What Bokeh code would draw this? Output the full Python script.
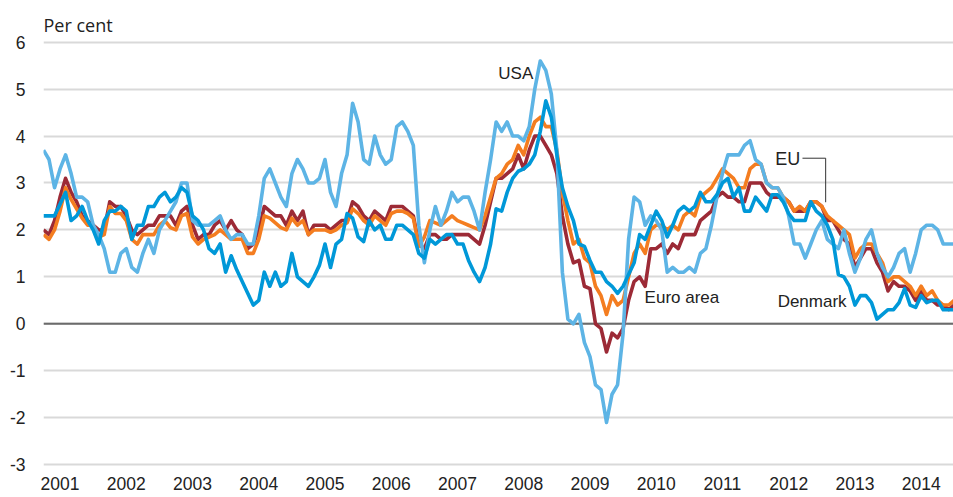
from bokeh.plotting import figure
from bokeh.models import FixedTicker, Span, Label, Range1d
from bokeh.embed import file_html
from bokeh.resources import INLINE

# ---- data: annual rate of consumer price inflation, monthly Jan 2001 - Oct 2014 ----
years = list(range(2001, 2015))
y_ticks = [-3, -2, -1, 0, 1, 2, 3, 4, 5, 6]

usa = [3.7, 3.5, 2.9, 3.3, 3.6, 3.2, 2.7, 2.7, 2.6, 2.1, 1.9, 1.6,
       1.1, 1.1, 1.5, 1.6, 1.2, 1.1, 1.5, 1.8, 1.5, 2.0, 2.2, 2.4,
       2.6, 3.0, 3.0, 2.2, 2.1, 2.1, 2.1, 2.2, 2.3, 2.0, 1.8, 1.9,
       1.9, 1.7, 1.7, 2.3, 3.1, 3.3, 3.0, 2.7, 2.5, 3.2, 3.5, 3.3,
       3.0, 3.0, 3.1, 3.5, 2.8, 2.5, 3.2, 3.6, 4.7, 4.3, 3.5, 3.4,
       4.0, 3.6, 3.4, 3.5, 4.2, 4.3, 4.1, 3.8, 2.1, 1.3, 2.0, 2.5,
       2.1, 2.4, 2.8, 2.6, 2.7, 2.7, 2.4, 2.0, 2.8, 3.5, 4.3, 4.1,
       4.3, 4.0, 4.0, 3.9, 4.2, 5.0, 5.6, 5.4, 4.9, 3.7, 1.1, 0.1,
       0.0, 0.2, -0.4, -0.7, -1.3, -1.4, -2.1, -1.5, -1.3, -0.2, 1.8, 2.7,
       2.6, 2.1, 2.3, 2.2, 2.0, 1.1, 1.2, 1.1, 1.1, 1.2, 1.1, 1.5,
       1.6, 2.1, 2.7, 3.2, 3.6, 3.6, 3.6, 3.8, 3.9, 3.5, 3.4, 3.0,
       2.9, 2.9, 2.7, 2.3, 1.7, 1.7, 1.4, 1.7, 2.0, 2.2, 1.8, 1.7,
       1.6, 2.0, 1.5, 1.1, 1.4, 1.8, 2.0, 1.5, 1.2, 1.0, 1.2, 1.5,
       1.6, 1.1, 1.5, 2.0, 2.1, 2.1, 2.0, 1.7, 1.7, 1.7]

eu = [1.9, 1.8, 2.0, 2.4, 2.9, 2.65, 2.45, 2.25, 2.1, 2.1, 1.85, 1.9,
      2.5, 2.35, 2.35, 2.2, 1.8, 1.7, 1.9, 1.9, 1.9, 2.1, 2.2, 2.05,
      2.0, 2.3, 2.35, 1.85, 1.7, 1.8, 1.85, 1.9, 2.0, 1.9, 1.8, 1.8,
      1.8, 1.5, 1.5, 1.8, 2.3, 2.25, 2.15, 2.05, 2.0, 2.25, 2.1, 2.2,
      1.9, 2.0, 2.0, 2.0, 1.95, 2.0, 2.1, 2.15, 2.45, 2.35, 2.2, 2.1,
      2.3, 2.2, 2.1, 2.35, 2.4, 2.4, 2.35, 2.25, 1.65, 1.85, 2.2, 2.15,
      2.1, 2.2, 2.3, 2.2, 2.15, 2.1, 2.05, 2.0, 2.3, 2.7, 3.1, 3.2,
      3.4, 3.5, 3.8, 3.6, 4.0, 4.3, 4.4, 4.2, 4.2, 3.7, 2.8, 2.2,
      1.7, 1.8, 1.4, 1.3, 0.8, 0.6, 0.2, 0.6, 0.4, 0.5, 1.0, 1.5,
      1.7, 1.5, 2.0, 2.1, 2.1, 2.0, 2.1, 2.0, 2.3, 2.4, 2.3, 2.7,
      2.8, 2.9, 3.1, 3.3, 3.2, 3.1, 2.9, 2.9, 3.3, 3.4, 3.4, 3.0,
      2.9, 2.9, 2.7, 2.6, 2.4, 2.5, 2.4, 2.6, 2.6, 2.5, 2.3, 2.2,
      2.1, 2.0, 1.9, 1.4, 1.6, 1.7, 1.7, 1.5, 1.3, 0.9, 1.0, 1.0,
      0.9, 0.8, 0.6, 0.8, 0.6, 0.7, 0.5, 0.4, 0.4, 0.5]

euro_area = [2.0, 1.9, 2.2, 2.7, 3.1, 2.8, 2.6, 2.3, 2.2, 2.1, 2.0, 2.0,
             2.6, 2.5, 2.5, 2.3, 2.0, 1.9, 2.0, 2.1, 2.1, 2.3, 2.3, 2.3,
             2.1, 2.4, 2.5, 2.1, 1.8, 1.9, 1.9, 2.1, 2.2, 2.0, 2.2, 2.0,
             1.9, 1.6, 1.7, 2.0, 2.5, 2.4, 2.3, 2.3, 2.1, 2.4, 2.2, 2.4,
             1.9, 2.1, 2.1, 2.1, 2.0, 2.1, 2.2, 2.2, 2.6, 2.5, 2.3, 2.2,
             2.4, 2.3, 2.2, 2.5, 2.5, 2.5, 2.4, 2.3, 1.7, 1.6, 1.9, 1.9,
             1.8, 1.8, 1.9, 1.9, 1.9, 1.9, 1.8, 1.7, 2.1, 2.6, 3.1, 3.1,
             3.2, 3.3, 3.6, 3.3, 3.7, 4.0, 4.0, 3.8, 3.6, 3.2, 2.3, 1.7,
             1.3, 1.35, 0.8, 0.75, 0.0, -0.1, -0.6, -0.2, -0.3, -0.1, 0.5, 0.9,
             1.0, 0.8, 1.6, 1.6, 1.7, 1.5, 1.7, 1.6, 1.9, 1.9, 1.9, 2.2,
             2.3, 2.4, 2.7, 2.8, 2.7, 2.7, 2.6, 2.6, 3.0, 3.0, 3.0, 2.8,
             2.7, 2.7, 2.7, 2.6, 2.4, 2.4, 2.4, 2.6, 2.6, 2.5, 2.2, 2.2,
             2.0, 1.8, 1.7, 1.2, 1.4, 1.6, 1.6, 1.3, 1.1, 0.7, 0.9, 0.8,
             0.8, 0.7, 0.5, 0.7, 0.5, 0.5, 0.4, 0.4, 0.3, 0.4]

denmark = [2.3, 2.3, 2.3, 2.55, 2.8, 2.2, 2.3, 2.5, 2.2, 2.0, 1.7, 2.2,
           2.4, 2.4, 2.5, 2.4, 1.8, 2.1, 2.1, 2.5, 2.5, 2.7, 2.8, 2.6,
           2.7, 2.9, 2.8, 2.3, 2.2, 2.0, 1.6, 1.5, 1.7, 1.1, 1.45, 1.15,
           0.9, 0.65, 0.4, 0.5, 1.1, 0.8, 1.1, 0.8, 0.9, 1.5, 1.0, 0.9,
           0.8, 1.0, 1.25, 1.7, 1.2, 1.7, 1.8, 2.35, 2.25, 1.85, 1.75, 2.2,
           2.0, 2.1, 1.8, 1.8, 2.1, 2.1, 2.0, 1.9, 1.5, 1.4, 1.8, 1.7,
           1.8, 1.9, 1.9, 1.7, 1.7, 1.35, 1.1, 0.9, 1.2, 1.7, 2.45, 2.4,
           2.8, 3.1, 3.25, 3.3, 3.4, 3.6, 4.1, 4.75, 4.4, 3.6, 2.9, 2.5,
           2.2, 1.7, 1.65, 1.35, 1.1, 1.1, 0.9, 0.8, 0.65, 0.8, 1.05, 1.3,
           1.9, 1.8, 2.1, 2.4, 2.2, 1.85, 2.1, 2.4, 2.5, 2.4, 2.5, 2.8,
           2.6, 2.6, 2.75, 3.0, 3.1, 2.7, 2.9, 2.4, 2.4, 2.7, 2.55, 2.4,
           2.75, 2.75, 2.6, 2.35, 2.2, 2.2, 2.2, 2.6, 2.4, 2.3, 2.1, 1.8,
           1.05, 1.0, 0.8, 0.4, 0.6, 0.6, 0.45, 0.1, 0.2, 0.3, 0.3, 0.45,
           0.75, 0.4, 0.35, 0.6, 0.45, 0.5, 0.5, 0.3, 0.3, 0.3]

months = list(range(len(usa)))  # month index from January 2001

# ---- styling ----
SANS = "Liberation Sans"
TXT = "#222222"
C_USA = "#5DB4E5"
C_DK = "#0098D8"
C_EU = "#F47D20"
C_EA = "#9C2A36"

p = figure(width=953, height=497, output_backend="svg", toolbar_location=None,
           x_range=Range1d(0, 164.86), y_range=Range1d(-3.04, 6.888),
           min_border_left=43, min_border_right=0, min_border_top=0,
           min_border_bottom=31)
p.outline_line_color = None
p.background_fill_color = "white"
p.border_fill_color = "white"

# x axis: year labels near the start of each year
xt = [12 * (y - 2001) + 3 for y in years]
p.xaxis.ticker = FixedTicker(ticks=xt)
p.xaxis.major_label_overrides = {t: str(y) for t, y in zip(xt, years)}
p.xaxis.axis_line_color = None
p.xaxis.major_tick_line_color = None
p.xaxis.minor_tick_line_color = None
p.xaxis.major_tick_out = 0
p.xaxis.major_label_standoff = 10
p.xaxis.major_label_text_font = SANS
p.xaxis.major_label_text_font_size = "17.5px"
p.xaxis.major_label_text_color = TXT

p.yaxis.ticker = FixedTicker(ticks=y_ticks)
p.yaxis.major_label_overrides = {t: str(t) for t in y_ticks}
p.yaxis.axis_line_color = None
p.yaxis.major_tick_line_color = None
p.yaxis.minor_tick_line_color = None
p.yaxis.major_tick_out = 0
p.yaxis.major_label_standoff = 18
p.yaxis.major_label_text_font = SANS
p.yaxis.major_label_text_font_size = "17.5px"
p.yaxis.major_label_text_color = TXT

p.xgrid.visible = False
p.ygrid.ticker = FixedTicker(ticks=y_ticks)
p.ygrid.grid_line_color = "#D9D9D9"
p.ygrid.grid_line_width = 2

p.add_layout(Span(location=0, dimension="width", line_color="#6B6B6B",
                  line_width=2, level="underlay"))

for series, col in [(euro_area, C_EA), (eu, C_EU), (usa, C_USA), (denmark, C_DK)]:
    p.line(months, series, line_color=col, line_width=3.6, line_join="round")

# EU leader line
p.line([137.5, 141.7, 141.7], [3.528, 3.528, 2.59], line_color="#333333", line_width=1)

def lab(x, y, text, font=SANS, size="17px"):
    p.add_layout(Label(x=x, y=y, text=text, text_font=font, text_font_size=size,
                       text_color=TXT, text_baseline="alphabetic", text_align="left"))

lab(0, 6.366, "Per cent", font="Open Sans", size="18px")
lab(82.4, 5.343, "USA")
lab(132.55, 3.511, "EU", size="18px")
lab(108.9, 0.571, "Euro area")
lab(133.0, 0.48, "Denmark")

open("out.html", "w").write(file_html(p, INLINE))
